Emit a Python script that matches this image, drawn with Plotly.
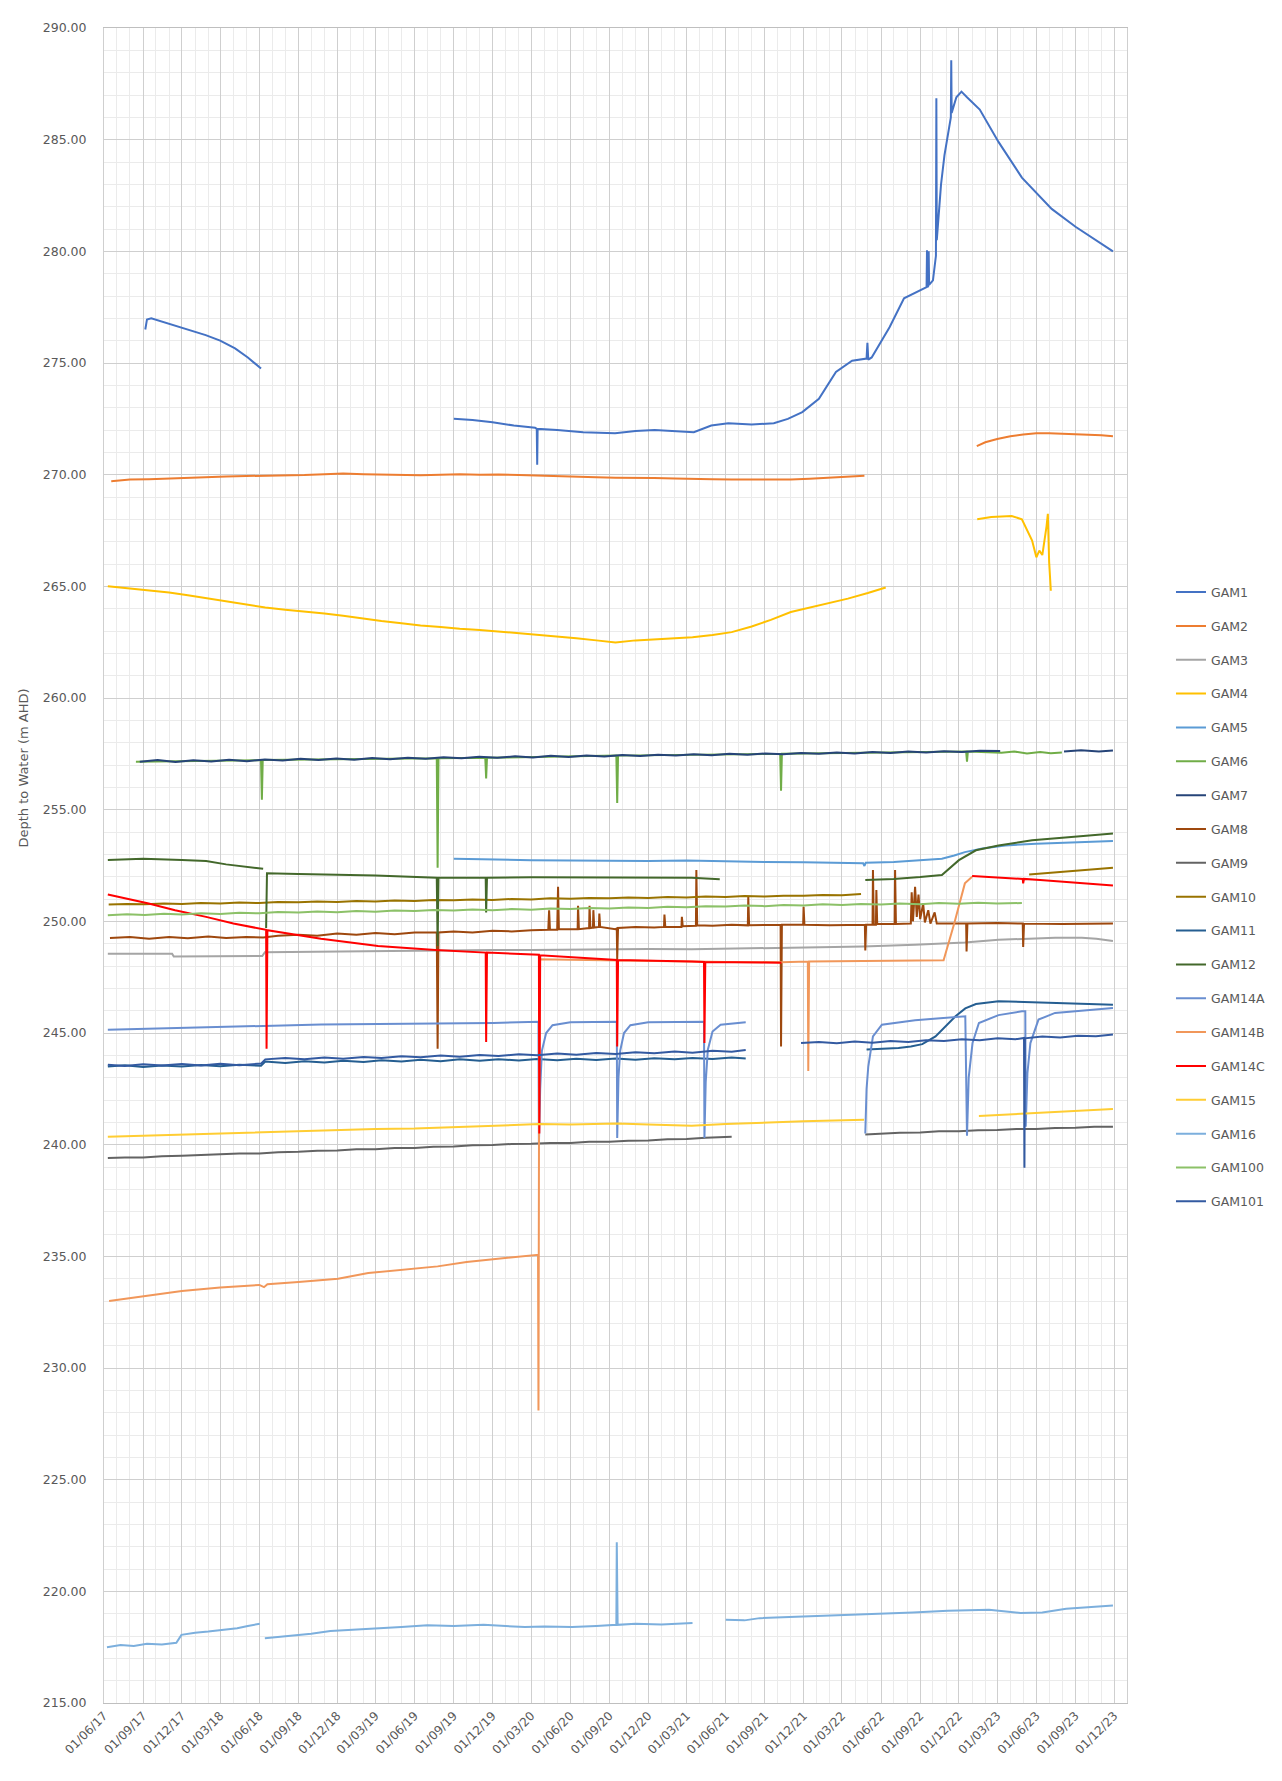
import plotly.graph_objects as go

# ---------------- data (date, value) ----------------
gam1 = [("2017-09-06",276.50),("2017-09-10",276.95),("2017-09-20",277.00),("2017-10-15",276.85),("2017-11-15",276.65),
        ("2017-12-20",276.45),("2018-01-26",276.25),("2018-03-01",276.00),("2018-04-05",275.65),("2018-05-05",275.25),
        ("2018-06-05",274.75),("2018-07-01",None),
        ("2019-09-01",272.50),("2019-10-15",272.45),("2019-12-01",272.35),("2020-01-20",272.20),("2020-03-10",272.10),
        ("2020-03-14",272.05),("2020-03-15",270.45),("2020-03-16",272.05),("2020-05-01",272.00),("2020-07-01",271.90),
        ("2020-09-14",271.85),("2020-11-01",271.95),("2020-12-16",272.00),("2021-02-01",271.95),("2021-03-18",271.90),
        ("2021-04-28",272.20),("2021-06-07",272.30),("2021-08-01",272.25),("2021-09-22",272.30),("2021-10-25",272.50),
        ("2021-11-28",272.80),("2022-01-06",273.40),("2022-02-15",274.60),("2022-03-25",275.10),("2022-04-28",275.20),
        ("2022-04-30",275.90),("2022-05-02",275.15),("2022-05-10",275.25),("2022-06-21",276.60),("2022-07-25",277.90),
        ("2022-08-25",278.20),("2022-09-16",278.40),("2022-09-17",280.05),("2022-09-18",278.40),("2022-09-20",278.45),
        ("2022-09-21",280.00),("2022-09-22",278.50),("2022-10-01",278.70),("2022-10-08",279.80),("2022-10-09",286.85),
        ("2022-10-10",280.50),("2022-10-20",283.00),("2022-10-28",284.30),("2022-11-10",285.80),("2022-11-12",286.00),
        ("2022-11-13",288.55),("2022-11-14",286.20),("2022-11-25",286.90),("2022-12-07",287.15),("2022-12-20",286.90),
        ("2023-01-19",286.35),("2023-03-04",284.90),("2023-04-28",283.30),("2023-07-07",281.90),("2023-09-01",281.10),
        ("2023-11-28",280.00)]

gam2 = [("2017-06-18",269.70),("2017-08-01",269.78),("2017-09-15",269.80),("2017-11-01",269.84),("2017-12-15",269.86),
        ("2018-02-01",269.90),("2018-03-15",269.92),("2018-05-01",269.94),("2018-06-15",269.95),("2018-08-01",269.97),
        ("2018-09-15",269.98),("2018-11-01",270.02),("2018-12-15",270.05),("2019-02-01",270.02),("2019-03-15",270.00),
        ("2019-05-01",269.98),("2019-06-15",269.97),("2019-08-01",270.00),("2019-09-15",270.02),("2019-11-01",270.00),
        ("2019-12-15",270.01),("2020-02-01",269.98),("2020-03-15",269.95),("2020-05-01",269.93),("2020-06-15",269.90),
        ("2020-08-01",269.88),("2020-09-15",269.86),("2020-11-01",269.87),("2020-12-15",269.85),("2021-02-01",269.83),
        ("2021-03-15",269.80),("2021-05-01",269.79),("2021-06-15",269.78),("2021-08-01",269.77),("2021-09-15",269.76),
        ("2021-11-01",269.78),("2021-12-15",269.82),("2022-02-01",269.86),("2022-03-15",269.90),("2022-04-23",269.95),
        ("2022-06-01",None),
        ("2023-01-12",271.28),("2023-02-01",271.45),("2023-03-01",271.60),("2023-04-01",271.72),("2023-05-01",271.80),
        ("2023-06-01",271.85),("2023-07-01",271.86),("2023-08-01",271.84),("2023-09-01",271.82),("2023-10-01",271.80),
        ("2023-11-01",271.76),("2023-11-28",271.72)]

gam3 = [("2017-06-10",248.55),("2017-08-01",248.56),("2017-10-01",248.54),("2017-11-08",248.55),("2017-11-12",248.42),
        ("2018-01-01",248.42),("2018-03-01",248.44),("2018-05-01",248.45),("2018-06-08",248.45),("2018-06-14",248.62),
        ("2018-09-01",248.64),("2018-12-01",248.65),("2019-03-01",248.66),("2019-06-01",248.68),("2019-09-01",248.70),
        ("2019-12-01",248.72),("2020-03-01",248.72),("2020-06-01",248.74),("2020-09-01",248.76),("2020-12-01",248.76),
        ("2021-03-13",248.75),("2021-06-01",248.77),("2021-09-01",248.80),("2021-12-01",248.83),("2022-04-20",248.87),
        ("2022-08-20",248.95),("2022-12-15",249.05),("2023-03-04",249.17),("2023-05-01",249.22),("2023-07-15",249.27),
        ("2023-09-16",249.27),("2023-10-20",249.22),("2023-11-28",249.12)]

gam4 = [("2017-06-10",265.00),("2017-08-01",264.90),("2017-09-15",264.82),("2017-11-01",264.72),("2017-12-15",264.60),
        ("2018-02-01",264.45),("2018-03-15",264.35),("2018-05-01",264.20),("2018-06-15",264.05),("2018-08-01",263.95),
        ("2018-09-15",263.88),("2018-11-01",263.78),("2018-12-15",263.68),("2019-02-01",263.55),("2019-03-15",263.45),
        ("2019-05-01",263.35),("2019-06-15",263.25),("2019-08-01",263.18),("2019-09-15",263.10),("2019-11-01",263.05),
        ("2019-12-15",262.98),("2020-02-01",262.92),("2020-03-15",262.85),("2020-05-01",262.75),("2020-06-15",262.68),
        ("2020-08-01",262.58),("2020-09-15",262.48),("2020-11-01",262.58),("2020-12-15",262.62),("2021-02-01",262.66),
        ("2021-03-15",262.72),("2021-05-01",262.82),("2021-06-15",262.95),("2021-08-01",263.20),("2021-09-15",263.50),
        ("2021-11-01",263.85),("2021-12-15",264.05),("2022-02-01",264.25),("2022-03-15",264.45),("2022-05-01",264.70),
        ("2022-06-12",264.95),("2022-07-01",None),
        ("2023-01-13",268.00),("2023-02-15",268.10),("2023-04-04",268.15),("2023-04-28",268.00),("2023-05-22",267.05),
        ("2023-06-01",266.30),("2023-06-08",266.60),("2023-06-15",266.40),("2023-06-25",267.70),("2023-06-28",268.25),
        ("2023-07-01",266.10),("2023-07-05",264.80)]

gam5 = [("2019-09-01",252.80),("2019-12-01",252.76),("2020-03-01",252.74),("2020-06-01",252.72),("2020-09-01",252.70),
        ("2020-12-01",252.70),("2021-03-01",252.72),("2021-06-01",252.68),("2021-09-01",252.66),("2021-12-01",252.65),
        ("2022-03-01",252.62),("2022-04-20",252.60),("2022-04-23",252.48),("2022-04-26",252.62),("2022-07-01",252.66),
        ("2022-09-01",252.72),("2022-10-22",252.80),("2022-11-20",252.95),("2022-12-15",253.10),("2023-01-25",253.26),
        ("2023-03-20",253.40),("2023-06-01",253.47),("2023-09-01",253.54),("2023-11-28",253.60)]

gam6 = [("2017-08-15",257.15),("2018-06-05",257.22),("2018-06-07",255.45),("2018-06-09",257.22),("2019-07-23",257.30),
        ("2019-07-25",252.40),("2019-07-27",257.30),("2019-11-14",257.32),("2019-11-16",256.40),("2019-11-18",257.32),
        ("2020-09-17",257.42),("2020-09-19",255.30),("2020-09-21",257.42),("2021-10-07",257.50),("2021-10-09",255.85),
        ("2021-10-11",257.50),("2022-12-18",257.60),("2022-12-20",257.15),("2022-12-22",257.60),("2023-03-11",257.55),
        ("2023-04-10",257.60),("2023-05-10",257.52),("2023-06-10",257.58),("2023-07-05",257.53),("2023-07-31",257.56)]

gam7 = [("2017-08-24",257.15),("2017-10-05",257.22),("2017-11-16",257.13),("2017-12-28",257.21),("2018-02-08",257.16),
        ("2018-03-22",257.24),("2018-05-03",257.17),("2018-06-14",257.25),("2018-07-26",257.20),("2018-09-06",257.28),
        ("2018-10-18",257.22),("2018-11-29",257.29),("2019-01-10",257.24),("2019-02-21",257.31),("2019-04-04",257.26),
        ("2019-05-16",257.33),("2019-06-27",257.28),("2019-08-08",257.35),("2019-09-19",257.30),("2019-10-31",257.37),
        ("2019-12-12",257.32),("2020-01-23",257.39),("2020-03-05",257.34),("2020-04-16",257.41),("2020-05-28",257.36),
        ("2020-07-09",257.43),("2020-08-20",257.38),("2020-10-01",257.45),("2020-11-12",257.40),("2020-12-24",257.46),
        ("2021-02-04",257.42),("2021-03-18",257.48),("2021-04-29",257.44),("2021-06-10",257.50),("2021-07-22",257.46),
        ("2021-09-02",257.52),("2021-10-14",257.48),("2021-11-25",257.54),("2022-01-06",257.50),("2022-02-17",257.56),
        ("2022-03-31",257.52),("2022-05-12",257.58),("2022-06-23",257.54),("2022-08-04",257.60),("2022-09-15",257.56),
        ("2022-10-27",257.62),("2022-12-08",257.58),("2023-01-19",257.64),("2023-03-08",257.63),("2023-05-01",None),
        ("2023-08-05",257.60),("2023-09-14",257.66),("2023-10-26",257.61),("2023-11-28",257.65)]

gam8 = [("2017-06-15",249.25),("2017-08-01",249.30),("2017-09-15",249.22),("2017-11-01",249.30),("2017-12-15",249.24),
        ("2018-02-01",249.32),("2018-03-15",249.25),("2018-05-01",249.30),("2018-06-10",249.28),("2018-07-15",249.35),
        ("2018-09-01",249.40),("2018-10-15",249.35),("2018-12-01",249.45),("2019-01-15",249.40),("2019-03-01",249.48),
        ("2019-04-15",249.42),("2019-06-01",249.50),("2019-07-23",249.50),("2019-07-25",244.30),("2019-07-27",249.50),
        ("2019-09-01",249.55),("2019-10-15",249.50),("2019-12-01",249.58),("2020-01-15",249.55),("2020-03-01",249.60),
        ("2020-04-10",249.62),("2020-04-12",250.50),("2020-04-14",249.62),("2020-05-01",249.62),("2020-05-03",251.55),
        ("2020-05-05",249.65),("2020-06-18",249.65),("2020-06-19",250.70),("2020-06-21",249.65),("2020-07-15",249.70),
        ("2020-07-16",250.70),("2020-07-18",249.70),("2020-07-24",249.72),("2020-07-25",250.50),("2020-07-27",249.72),
        ("2020-08-07",249.75),("2020-08-08",250.35),("2020-08-10",249.75),("2020-08-26",249.70),("2020-09-15",249.65),
        ("2020-09-18",249.68),("2020-09-19",248.30),("2020-09-21",249.70),("2020-11-01",249.75),("2020-12-15",249.72),
        ("2021-01-07",249.75),("2021-01-08",250.30),("2021-01-10",249.75),("2021-02-17",249.75),("2021-02-18",250.20),
        ("2021-02-20",249.78),("2021-03-23",249.80),("2021-03-24",252.30),("2021-03-26",249.82),("2021-05-01",249.80),
        ("2021-06-15",249.85),("2021-07-23",249.82),("2021-07-24",251.10),("2021-07-26",249.82),("2021-09-01",249.85),
        ("2021-10-08",249.85),("2021-10-09",244.40),("2021-10-11",249.85),("2021-11-30",249.85),("2021-12-01",250.65),
        ("2021-12-03",249.85),("2022-02-01",249.82),("2022-04-24",249.85),("2022-04-25",248.70),("2022-04-27",249.85),
        ("2022-05-12",249.85),("2022-05-13",252.30),("2022-05-15",249.85),("2022-05-20",249.85),("2022-05-21",251.40),
        ("2022-05-23",249.88),("2022-07-03",249.88),("2022-07-04",252.30),("2022-07-06",249.88),("2022-08-10",249.90),
        ("2022-08-12",251.30),("2022-08-15",250.00),("2022-08-20",251.55),("2022-08-24",250.20),("2022-08-28",251.20),
        ("2022-09-01",250.10),("2022-09-08",250.80),("2022-09-12",249.95),("2022-09-20",250.50),("2022-09-25",249.90),
        ("2022-10-05",250.40),("2022-10-10",249.90),("2022-11-01",249.90),("2022-12-18",249.90),("2022-12-19",248.65),
        ("2022-12-21",249.90),("2023-03-01",249.92),("2023-04-30",249.90),("2023-05-01",248.85),("2023-05-03",249.90),
        ("2023-08-01",249.88),("2023-11-28",249.90)]

gam9 = [("2017-06-10",239.40),("2017-07-20",239.43),("2017-09-01",239.42),("2017-10-15",239.48),("2017-12-01",239.50),
        ("2018-01-15",239.54),("2018-03-01",239.55),("2018-04-15",239.60),("2018-06-01",239.60),("2018-07-15",239.66),
        ("2018-09-01",239.68),("2018-10-15",239.73),("2018-12-01",239.74),("2019-01-15",239.79),("2019-03-01",239.80),
        ("2019-04-15",239.85),("2019-06-01",239.85),("2019-07-15",239.91),("2019-09-01",239.92),("2019-10-15",239.97),
        ("2019-12-01",239.98),("2020-01-15",240.03),("2020-03-01",240.04),("2020-04-15",240.08),("2020-06-01",240.08),
        ("2020-07-15",240.13),("2020-09-01",240.13),("2020-10-15",240.18),("2020-12-01",240.19),("2021-01-15",240.24),
        ("2021-03-01",240.25),("2021-04-15",240.31),("2021-06-15",240.35),("2021-07-01",None),
        ("2022-04-25",240.46),("2022-06-01",240.50),("2022-07-15",240.53),("2022-09-01",240.55),("2022-10-15",240.60),
        ("2022-12-01",240.60),("2023-01-15",240.65),("2023-03-01",240.66),("2023-04-15",240.70),("2023-06-01",240.70),
        ("2023-07-15",240.75),("2023-09-01",240.76),("2023-10-15",240.80),("2023-11-28",240.80)]

gam10 = [("2017-06-12",250.75),("2017-07-25",250.78),("2017-09-05",250.76),("2017-10-20",250.80),("2017-12-01",250.78),
         ("2018-01-15",250.82),("2018-03-01",250.80),("2018-04-15",250.84),("2018-06-01",250.82),("2018-07-15",250.87),
         ("2018-09-01",250.85),("2018-10-15",250.89),("2018-12-01",250.87),("2019-01-15",250.91),("2019-03-01",250.89),
         ("2019-04-15",250.93),("2019-06-01",250.91),("2019-07-15",250.96),("2019-09-01",250.94),("2019-10-15",250.98),
         ("2019-12-01",250.96),("2020-01-15",251.00),("2020-03-01",250.98),("2020-04-15",251.03),("2020-06-01",251.01),
         ("2020-07-15",251.05),("2020-09-01",251.03),("2020-10-15",251.07),("2020-12-01",251.05),("2021-01-15",251.09),
         ("2021-03-01",251.07),("2021-04-15",251.11),("2021-06-01",251.09),("2021-07-15",251.13),("2021-09-01",251.11),
         ("2021-10-15",251.15),("2021-12-01",251.14),("2022-01-15",251.18),("2022-03-01",251.17),("2022-04-15",251.22),
         ("2022-05-01",None),
         ("2023-05-15",252.10),("2023-06-15",252.15),("2023-07-15",252.20),("2023-08-15",252.24),("2023-09-15",252.28),
         ("2023-10-15",252.33),("2023-11-28",252.40)]

gam11 = [("2017-06-10",243.50),("2017-07-20",243.56),("2017-09-01",243.48),("2017-10-15",243.55),("2017-12-01",243.50),
         ("2018-01-15",243.57),("2018-03-01",243.51),("2018-04-15",243.58),("2018-06-05",243.53),("2018-06-15",243.72),
         ("2018-08-01",243.66),("2018-09-15",243.74),("2018-11-01",243.68),("2018-12-15",243.76),("2019-02-01",243.70),
         ("2019-03-15",243.78),("2019-05-01",243.72),("2019-06-15",243.80),("2019-08-01",243.74),("2019-09-15",243.82),
         ("2019-11-01",243.76),("2019-12-15",243.83),("2020-02-01",243.77),("2020-03-15",243.84),("2020-05-01",243.78),
         ("2020-06-15",243.85),("2020-08-01",243.79),("2020-09-15",243.86),("2020-11-01",243.80),("2020-12-15",243.87),
         ("2021-02-01",243.82),("2021-03-15",243.88),("2021-05-01",243.84),("2021-06-15",243.90),("2021-07-18",243.86),
         ("2021-08-01",None),
         ("2022-04-28",244.26),("2022-06-01",244.30),("2022-07-12",244.33),("2022-08-10",244.40),("2022-09-06",244.50),
         ("2022-10-07",244.85),("2022-10-31",245.30),("2022-11-23",245.75),("2022-12-16",246.10),("2023-01-10",246.30),
         ("2023-03-04",246.42),("2023-05-22",246.37),("2023-08-01",246.32),("2023-11-28",246.27)]

gam12 = [("2017-06-10",252.75),("2017-09-01",252.80),("2017-12-01",252.75),("2018-01-27",252.70),("2018-03-15",252.55),
         ("2018-05-01",252.45),("2018-06-10",252.35),("2018-06-14",None),
         ("2018-06-17",249.70),("2018-06-19",252.15),("2018-09-01",252.12),("2018-12-01",252.10),("2019-03-01",252.05),
         ("2019-07-23",251.95),("2019-07-25",248.90),("2019-07-27",251.95),("2019-11-15",251.95),("2019-11-16",250.40),
         ("2019-11-18",251.95),("2020-03-01",251.97),("2020-09-01",251.95),("2021-03-13",251.95),("2021-05-18",251.88),
         ("2021-06-01",None),
         ("2022-04-25",251.85),("2022-07-01",251.90),("2022-09-01",251.98),("2022-10-22",252.07),("2022-12-01",252.74),
         ("2023-01-10",253.18),("2023-03-04",253.40),("2023-05-22",253.63),("2023-08-08",253.75),("2023-11-28",253.93)]

gam14a = [("2017-06-10",245.15),("2017-10-01",245.20),("2018-01-27",245.25),("2018-06-10",245.30),("2018-10-24",245.38),
          ("2019-03-07",245.40),("2019-07-20",245.42),("2019-12-03",245.45),("2020-03-18",245.50),("2020-03-19",240.00),
          ("2020-03-22",242.50),("2020-03-26",244.20),("2020-04-05",245.00),("2020-04-20",245.35),("2020-06-01",245.48),
          ("2020-09-18",245.50),("2020-09-19",240.30),("2020-09-22",243.00),("2020-09-26",244.20),("2020-10-05",245.00),
          ("2020-10-20",245.35),("2020-12-01",245.48),("2021-04-11",245.50),("2021-04-12",240.30),("2021-04-15",242.80),
          ("2021-04-20",244.25),("2021-05-01",245.07),("2021-05-20",245.37),("2021-07-18",245.48),("2021-08-01",None),
          ("2022-04-25",240.50),("2022-04-28",242.50),("2022-05-02",243.50),("2022-05-13",244.85),("2022-06-03",245.37),
          ("2022-08-20",245.57),("2022-12-16",245.75),("2022-12-20",240.40),("2022-12-24",243.00),("2023-01-02",244.55),
          ("2023-01-17",245.45),("2023-03-04",245.80),("2023-04-28",245.97),("2023-05-06",245.97),("2023-05-07",240.80),
          ("2023-05-11",243.20),("2023-05-18",244.55),("2023-06-06",245.60),("2023-07-15",245.90),("2023-09-16",246.00),
          ("2023-11-28",246.12)]

gam14b = [("2017-06-13",233.00),("2017-09-01",233.20),("2017-12-01",233.45),("2018-03-01",233.60),("2018-06-01",233.72),
          ("2018-06-12",233.62),("2018-06-20",233.75),("2018-09-01",233.85),("2018-12-03",234.00),("2019-02-12",234.25),
          ("2019-05-01",234.40),("2019-07-25",234.55),("2019-10-01",234.75),("2019-11-28",234.85),("2020-03-17",235.07),
          ("2020-03-18",228.10),("2020-03-20",248.30),("2020-06-01",248.28),("2020-12-01",248.22),("2021-06-01",248.18),
          ("2021-10-09",248.17),("2021-12-11",248.20),("2021-12-12",243.30),("2021-12-14",248.20),("2022-04-20",248.22),
          ("2022-07-20",248.24),("2022-10-26",248.26),("2022-11-20",249.90),("2022-12-15",251.70),("2023-01-01",252.00)]

gam14c = [("2017-06-10",251.20),("2017-09-14",250.80),("2017-11-15",250.50),("2018-01-27",250.20),("2018-04-01",249.90),
          ("2018-06-10",249.67),("2018-06-17",249.62),("2018-06-18",244.30),("2018-06-20",249.60),("2018-10-24",249.22),
          ("2019-03-07",248.90),("2019-07-20",248.72),("2019-11-15",248.60),("2019-11-16",244.60),("2019-11-18",248.60),
          ("2020-03-19",248.50),("2020-03-20",240.50),("2020-03-22",248.48),("2020-09-01",248.27),("2020-09-18",248.27),
          ("2020-09-19",244.40),("2020-09-21",248.27),("2021-03-13",248.20),("2021-04-11",248.18),("2021-04-12",244.55),
          ("2021-04-14",248.18),("2021-10-10",248.15),("2021-11-01",None),
          ("2023-01-01",252.03),("2023-03-04",251.95),("2023-04-30",251.90),("2023-05-01",251.70),("2023-05-03",251.90),
          ("2023-06-10",251.85),("2023-09-16",251.70),("2023-11-28",251.60)]

gam15 = [("2017-06-10",240.35),("2017-09-01",240.40),("2017-12-01",240.45),("2018-03-01",240.50),("2018-06-01",240.55),
         ("2018-09-01",240.60),("2018-12-01",240.65),("2019-03-01",240.70),("2019-06-01",240.72),("2019-09-01",240.78),
         ("2019-12-01",240.85),("2020-03-20",240.92),("2020-06-01",240.90),("2020-09-19",240.95),("2020-12-01",240.90),
         ("2021-03-13",240.85),("2021-06-01",240.92),("2021-09-01",241.00),("2021-12-01",241.05),("2022-04-22",241.12),
         ("2022-05-01",None),
         ("2023-01-17",241.28),("2023-04-01",241.35),("2023-07-01",241.45),("2023-11-28",241.60)]

gam16 = [("2017-06-08",217.50),("2017-07-10",217.60),("2017-08-10",217.55),("2017-09-10",217.65),("2017-10-15",217.62),
         ("2017-11-18",217.70),("2017-11-30",218.05),("2018-01-01",218.15),("2018-02-01",218.20),("2018-03-08",218.28),
         ("2018-04-10",218.35),("2018-05-05",218.45),("2018-06-02",218.55),("2018-06-08",None),
         ("2018-06-14",217.90),("2018-08-10",218.00),("2018-10-01",218.10),("2018-11-15",218.22),("2019-01-20",218.28),
         ("2019-03-15",218.35),("2019-05-01",218.40),("2019-07-01",218.48),("2019-09-01",218.45),("2019-11-10",218.50),
         ("2020-01-01",218.45),("2020-02-15",218.40),("2020-04-01",218.42),("2020-06-05",218.40),("2020-08-01",218.45),
         ("2020-09-01",218.50),("2020-09-17",218.50),("2020-09-18",222.20),("2020-09-20",218.50),("2020-11-01",218.55),
         ("2021-01-01",218.52),("2021-03-15",218.58),("2021-04-01",None),
         ("2021-06-01",218.73),("2021-07-15",218.70),("2021-08-20",218.80),("2021-11-01",218.85),("2022-01-25",218.90),
         ("2022-04-01",218.95),("2022-06-01",219.00),("2022-08-15",219.05),("2022-11-05",219.13),("2023-02-10",219.18),
         ("2023-04-25",219.03),("2023-06-15",219.05),("2023-08-10",219.22),("2023-10-01",219.28),("2023-11-28",219.37)]

gam100 = [("2017-06-10",250.27),("2017-07-25",250.32),("2017-09-05",250.28),("2017-10-20",250.34),("2017-12-01",250.31),
          ("2018-01-15",250.36),("2018-03-01",250.33),("2018-04-15",250.38),("2018-06-01",250.36),("2018-07-15",250.42),
          ("2018-09-01",250.39),("2018-10-15",250.44),("2018-12-01",250.41),("2019-01-15",250.46),("2019-03-01",250.43),
          ("2019-04-15",250.48),("2019-06-01",250.46),("2019-07-15",250.51),("2019-09-01",250.48),("2019-10-15",250.53),
          ("2019-12-01",250.50),("2020-01-15",250.55),("2020-03-01",250.52),("2020-04-15",250.57),("2020-06-01",250.55),
          ("2020-07-15",250.60),("2020-09-01",250.57),("2020-10-15",250.62),("2020-12-01",250.60),("2021-01-15",250.65),
          ("2021-03-01",250.63),("2021-04-15",250.68),("2021-06-01",250.66),("2021-07-15",250.71),("2021-09-01",250.68),
          ("2021-10-15",250.73),("2021-12-01",250.71),("2022-01-15",250.76),("2022-03-01",250.73),("2022-04-15",250.78),
          ("2022-06-01",250.75),("2022-07-15",250.80),("2022-09-01",250.77),("2022-10-15",250.82),("2022-12-01",250.79),
          ("2023-01-15",250.83),("2023-03-01",250.80),("2023-04-28",250.82)]

gam101 = [("2017-06-10",243.58),("2017-07-20",243.52),("2017-09-01",243.60),("2017-10-15",243.54),("2017-12-01",243.61),
          ("2018-01-15",243.55),("2018-03-01",243.62),("2018-04-15",243.56),("2018-06-05",243.63),("2018-06-15",243.82),
          ("2018-08-01",243.88),("2018-09-15",243.83),("2018-11-01",243.90),("2018-12-15",243.85),("2019-02-01",243.93),
          ("2019-03-15",243.88),("2019-05-01",243.96),("2019-06-15",243.91),("2019-08-01",243.99),("2019-09-15",243.94),
          ("2019-11-01",244.02),("2019-12-15",243.97),("2020-02-01",244.05),("2020-03-15",244.00),("2020-05-01",244.08),
          ("2020-06-15",244.03),("2020-08-01",244.11),("2020-09-15",244.06),("2020-11-01",244.14),("2020-12-15",244.09),
          ("2021-02-01",244.17),("2021-03-15",244.12),("2021-05-01",244.20),("2021-06-15",244.16),("2021-07-18",244.24),
          ("2021-08-01",None),
          ("2021-11-25",244.55),("2022-01-06",244.60),("2022-02-17",244.54),("2022-03-31",244.62),("2022-05-12",244.56),
          ("2022-06-23",244.64),("2022-08-04",244.60),("2022-09-15",244.68),("2022-10-27",244.64),("2022-12-08",244.72),
          ("2023-01-19",244.68),("2023-03-02",244.76),("2023-04-13",244.72),("2023-05-03",244.78),("2023-05-04",238.97),
          ("2023-05-05",244.76),("2023-06-15",244.84),("2023-07-27",244.80),("2023-09-07",244.88),("2023-10-19",244.86),
          ("2023-11-28",244.93)]

series_names = ["GAM1","GAM2","GAM3","GAM4","GAM5","GAM6","GAM7","GAM8","GAM9","GAM10",
                "GAM11","GAM12","GAM14A","GAM14B","GAM14C","GAM15","GAM16","GAM100","GAM101"]
series_data = [gam1, gam2, gam3, gam4, gam5, gam6, gam7, gam8, gam9, gam10,
               gam11, gam12, gam14a, gam14b, gam14c, gam15, gam16, gam100, gam101]
series_colors = ["#4472C4","#ED7D31","#A5A5A5","#FFC000","#5B9BD5","#70AD47","#264478","#9E480E","#636363","#997300",
                 "#255E91","#43682B","#698ED0","#F1975A","#FF0000","#FFCD33","#7CAFDD","#8CC168","#335AA1"]

fig = go.Figure()
for name, pts, col in zip(series_names, series_data, series_colors):
    fig.add_trace(go.Scatter(
        x=[p[0] for p in pts], y=[p[1] for p in pts],
        mode="lines", name=name, legendgroup=name,
        line=dict(color=col, width=2), connectgaps=False))

# page body adds an 8px offset; figure sized so the plot area lands at 104..1127 x 21..1703
fig.update_layout(
    width=1274, height=1773,
    margin=dict(l=96, r=155, t=12, b=78),
    paper_bgcolor="white", plot_bgcolor="white",
    font=dict(family="DejaVu Sans", color="#595959", size=12),
    showlegend=True,
    legend=dict(x=1.043, xanchor="left", y=0.672, yanchor="top",
                tracegroupgap=14.6, font=dict(size=12.5, color="#595959"),
                bgcolor="rgba(0,0,0,0)"),
    xaxis=dict(type="date", range=["2017-06-01", "2023-12-31"],
               tick0="2017-06-01", dtick="M3", tickformat="%d/%m/%y", tickangle=-45,
               tickfont=dict(size=12), ticks="",
               showgrid=True, gridcolor="#CFCFCF", gridwidth=1,
               minor=dict(dtick="M1", tick0="2017-06-01", showgrid=True, gridcolor="#EBEBEB"),
               showline=True, linecolor="#BFBFBF", mirror=True, zeroline=False),
    yaxis=dict(range=[215, 290], tick0=215, dtick=5, tickformat=".2f",
               tickfont=dict(size=12.5), ticks="", ticklabelstandoff=14,
               showgrid=True, gridcolor="#CFCFCF", gridwidth=1,
               minor=dict(dtick=1, showgrid=True, gridcolor="#EBEBEB"),
               showline=True, linecolor="#CFCFCF", mirror=True, zeroline=False),
    annotations=[dict(text="Depth to Water (m AHD)", textangle=-90, showarrow=False,
                      xref="paper", yref="paper", x=-0.079, y=0.558,
                      xanchor="center", yanchor="middle",
                      font=dict(size=13, color="#595959"))]
)

fig.write_html("out.html")
